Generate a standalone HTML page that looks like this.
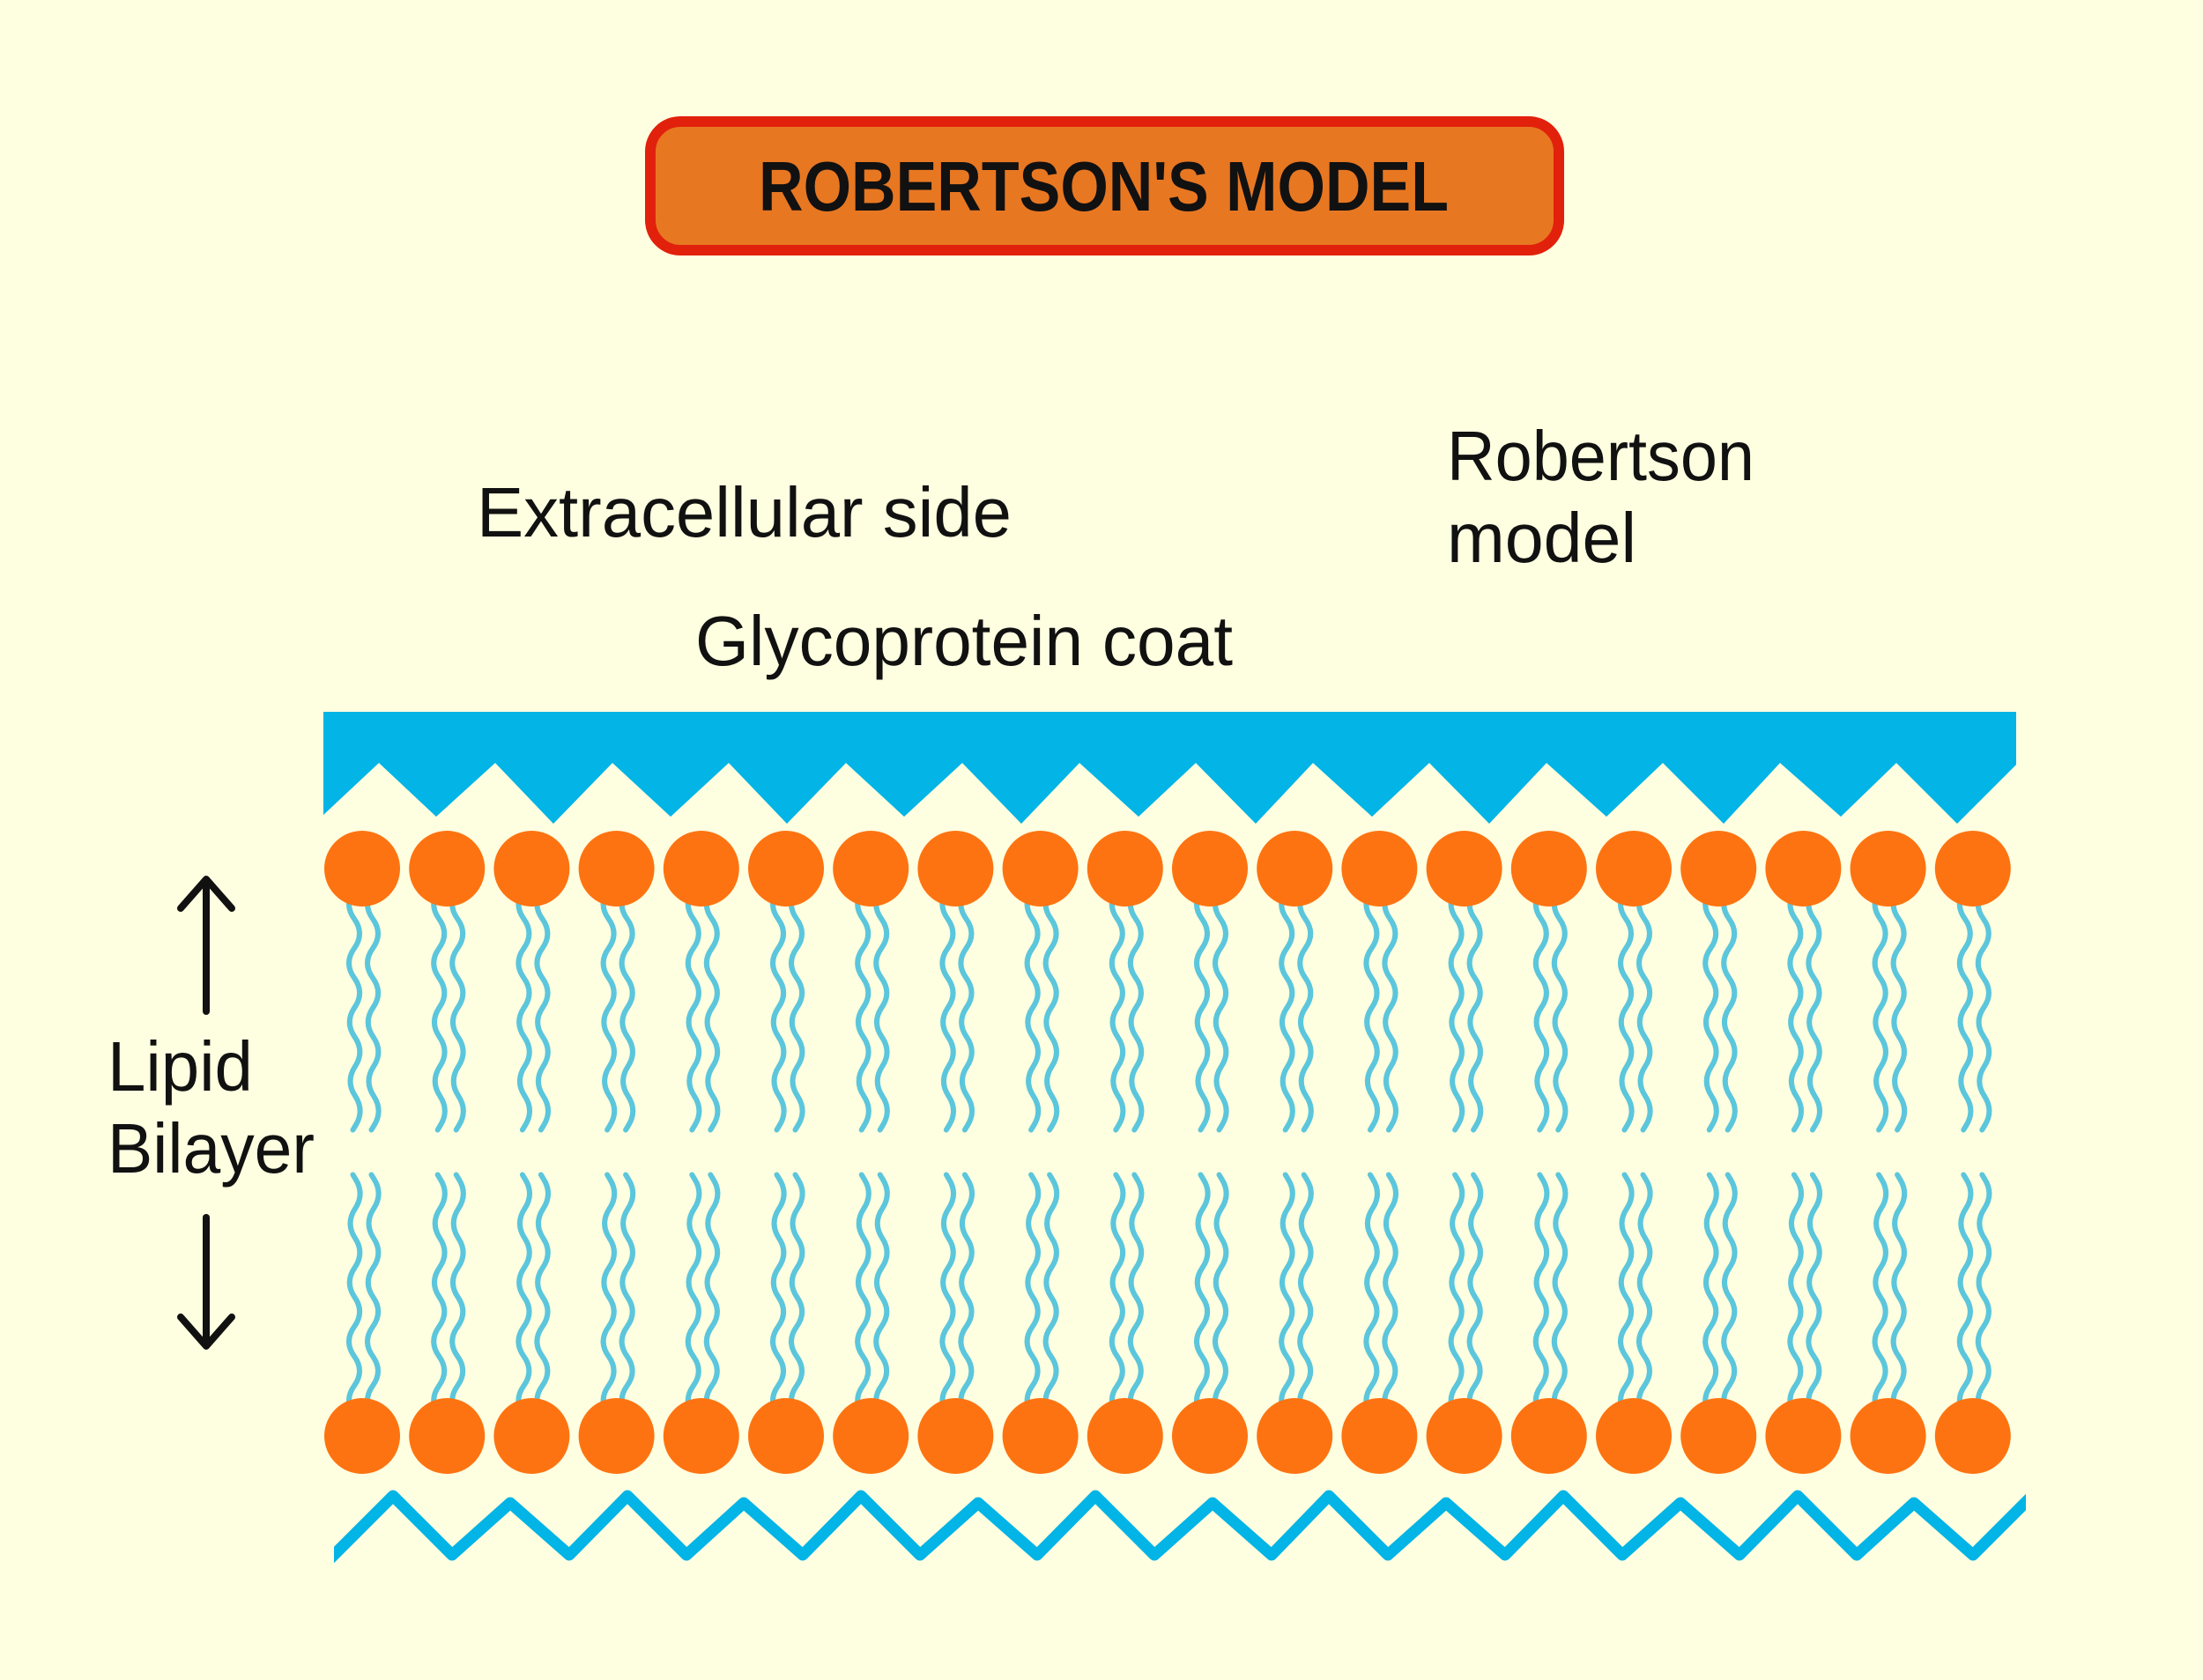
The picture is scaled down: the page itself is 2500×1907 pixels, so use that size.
<!DOCTYPE html>
<html>
<head>
<meta charset="utf-8">
<style>
  html, body { margin: 0; padding: 0; background: #fefee0; }
  svg { display: block; }
  text { font-family: "Liberation Sans", "DejaVu Sans", sans-serif; fill: #111; }
</style>
</head>
<body>
<svg width="2500" height="1907" viewBox="0 0 2500 1907" xmlns="http://www.w3.org/2000/svg">
  <defs>
    <g id="pair" fill="none" stroke="#5bc6dc" stroke-width="6" stroke-linecap="round">
      <path d="M-9,23.5 q-12,16.75 0,33.5 t0,33.5 t0,33.5 t0.5,33.5 t0,33.5 t0.5,33.5 t0,33.5 t0.5,33.5 l-3,5"/>
      <path d="M12,23.5 q-12,16.75 0,33.5 t0,33.5 t0,33.5 t0.5,33.5 t0,33.5 t0.5,33.5 t0,33.5 t0.5,33.5 l-3,5"/>
    </g>
    <clipPath id="zzclip"><rect x="379" y="1600" width="1920" height="250"/></clipPath>
  </defs>

  <rect x="0" y="0" width="2500" height="1907" fill="#fefee0"/>

  <!-- Title -->
  <rect x="738" y="138" width="1031" height="146" rx="34" ry="34" fill="#e87722" stroke="#e1210c" stroke-width="12"/>
  <text x="861" y="239" font-size="80" font-weight="bold" textLength="783" lengthAdjust="spacingAndGlyphs">ROBERTSON'S MODEL</text>

  <!-- Labels -->
  <text x="541" y="609" font-size="80" textLength="607" lengthAdjust="spacingAndGlyphs">Extracellular side</text>
  <text x="789" y="755" font-size="80" textLength="610" lengthAdjust="spacingAndGlyphs">Glycoprotein coat</text>
  <text x="1642" y="545" font-size="80" textLength="349" lengthAdjust="spacingAndGlyphs">Robertson</text>
  <text x="1642" y="638" font-size="80" textLength="215" lengthAdjust="spacingAndGlyphs">model</text>
  <text x="122" y="1238" font-size="80" textLength="165" lengthAdjust="spacingAndGlyphs">Lipid</text>
  <text x="122" y="1331" font-size="80" textLength="235" lengthAdjust="spacingAndGlyphs">Bilayer</text>

  <!-- Arrows -->
  <g fill="none" stroke="#111" stroke-width="8" stroke-linecap="round" stroke-linejoin="round">
    <line x1="234" y1="1148" x2="234" y2="999"/>
    <polyline points="205,1031 234,998 263,1031"/>
    <line x1="234" y1="1382" x2="234" y2="1527"/>
    <polyline points="205,1495 234,1528 263,1495"/>
  </g>

  <!-- Glycoprotein coat -->
  <polygon fill="#03b4e6" points="367,808 2288,808 2288,868 2221,935 2152,866 2089,927 2020,866 1956,935 1887,866 1823,927 1755,866 1690,935 1622,866 1557,927 1490,866 1425,935 1357,866 1292,927 1225,866 1159,935 1092,866 1026,927 960,866 893,935 827,866 761,927 695,866 628,935 562,866 495,927 430,866 367,925"/>

  <!-- Upper tails -->
  <use href="#pair" x="411" y="986"/>
  <use href="#pair" x="507.2" y="986"/>
  <use href="#pair" x="603.4" y="986"/>
  <use href="#pair" x="699.6" y="986"/>
  <use href="#pair" x="795.8" y="986"/>
  <use href="#pair" x="892" y="986"/>
  <use href="#pair" x="988.2" y="986"/>
  <use href="#pair" x="1084.4" y="986"/>
  <use href="#pair" x="1180.6" y="986"/>
  <use href="#pair" x="1276.8" y="986"/>
  <use href="#pair" x="1373" y="986"/>
  <use href="#pair" x="1469.2" y="986"/>
  <use href="#pair" x="1565.4" y="986"/>
  <use href="#pair" x="1661.6" y="986"/>
  <use href="#pair" x="1757.8" y="986"/>
  <use href="#pair" x="1854" y="986"/>
  <use href="#pair" x="1950.2" y="986"/>
  <use href="#pair" x="2046.4" y="986"/>
  <use href="#pair" x="2142.6" y="986"/>
  <use href="#pair" x="2238.8" y="986"/>

  <!-- Lower tails (mirrored) -->
  <use href="#pair" transform="translate(411,1630) scale(1,-1)"/>
  <use href="#pair" transform="translate(507.2,1630) scale(1,-1)"/>
  <use href="#pair" transform="translate(603.4,1630) scale(1,-1)"/>
  <use href="#pair" transform="translate(699.6,1630) scale(1,-1)"/>
  <use href="#pair" transform="translate(795.8,1630) scale(1,-1)"/>
  <use href="#pair" transform="translate(892,1630) scale(1,-1)"/>
  <use href="#pair" transform="translate(988.2,1630) scale(1,-1)"/>
  <use href="#pair" transform="translate(1084.4,1630) scale(1,-1)"/>
  <use href="#pair" transform="translate(1180.6,1630) scale(1,-1)"/>
  <use href="#pair" transform="translate(1276.8,1630) scale(1,-1)"/>
  <use href="#pair" transform="translate(1373,1630) scale(1,-1)"/>
  <use href="#pair" transform="translate(1469.2,1630) scale(1,-1)"/>
  <use href="#pair" transform="translate(1565.4,1630) scale(1,-1)"/>
  <use href="#pair" transform="translate(1661.6,1630) scale(1,-1)"/>
  <use href="#pair" transform="translate(1757.8,1630) scale(1,-1)"/>
  <use href="#pair" transform="translate(1854,1630) scale(1,-1)"/>
  <use href="#pair" transform="translate(1950.2,1630) scale(1,-1)"/>
  <use href="#pair" transform="translate(2046.4,1630) scale(1,-1)"/>
  <use href="#pair" transform="translate(2142.6,1630) scale(1,-1)"/>
  <use href="#pair" transform="translate(2238.8,1630) scale(1,-1)"/>

  <!-- Heads -->
  <g fill="#fe7311">
    <circle cx="411" cy="986" r="43"/><circle cx="507.2" cy="986" r="43"/><circle cx="603.4" cy="986" r="43"/><circle cx="699.6" cy="986" r="43"/><circle cx="795.8" cy="986" r="43"/>
    <circle cx="892" cy="986" r="43"/><circle cx="988.2" cy="986" r="43"/><circle cx="1084.4" cy="986" r="43"/><circle cx="1180.6" cy="986" r="43"/><circle cx="1276.8" cy="986" r="43"/>
    <circle cx="1373" cy="986" r="43"/><circle cx="1469.2" cy="986" r="43"/><circle cx="1565.4" cy="986" r="43"/><circle cx="1661.6" cy="986" r="43"/><circle cx="1757.8" cy="986" r="43"/>
    <circle cx="1854" cy="986" r="43"/><circle cx="1950.2" cy="986" r="43"/><circle cx="2046.4" cy="986" r="43"/><circle cx="2142.6" cy="986" r="43"/><circle cx="2238.8" cy="986" r="43"/>

    <circle cx="411" cy="1630" r="43"/><circle cx="507.2" cy="1630" r="43"/><circle cx="603.4" cy="1630" r="43"/><circle cx="699.6" cy="1630" r="43"/><circle cx="795.8" cy="1630" r="43"/>
    <circle cx="892" cy="1630" r="43"/><circle cx="988.2" cy="1630" r="43"/><circle cx="1084.4" cy="1630" r="43"/><circle cx="1180.6" cy="1630" r="43"/><circle cx="1276.8" cy="1630" r="43"/>
    <circle cx="1373" cy="1630" r="43"/><circle cx="1469.2" cy="1630" r="43"/><circle cx="1565.4" cy="1630" r="43"/><circle cx="1661.6" cy="1630" r="43"/><circle cx="1757.8" cy="1630" r="43"/>
    <circle cx="1854" cy="1630" r="43"/><circle cx="1950.2" cy="1630" r="43"/><circle cx="2046.4" cy="1630" r="43"/><circle cx="2142.6" cy="1630" r="43"/><circle cx="2238.8" cy="1630" r="43"/>
  </g>

  <!-- Bottom zigzag -->
  <polyline clip-path="url(#zzclip)" fill="none" stroke="#03b4e6" stroke-width="13" stroke-linejoin="round"
    points="340,1804 446,1698 513,1765 579,1706 646,1765 712,1698 779,1765 844,1706 911,1765 977,1698 1044,1765 1110,1706 1177,1765 1243,1698 1310,1765 1376,1706 1443,1765 1508,1698 1575,1765 1641,1706 1708,1765 1774,1698 1841,1765 1907,1706 1974,1765 2040,1698 2107,1765 2172,1706 2239,1765 2330,1674"/>
</svg>
</body>
</html>
